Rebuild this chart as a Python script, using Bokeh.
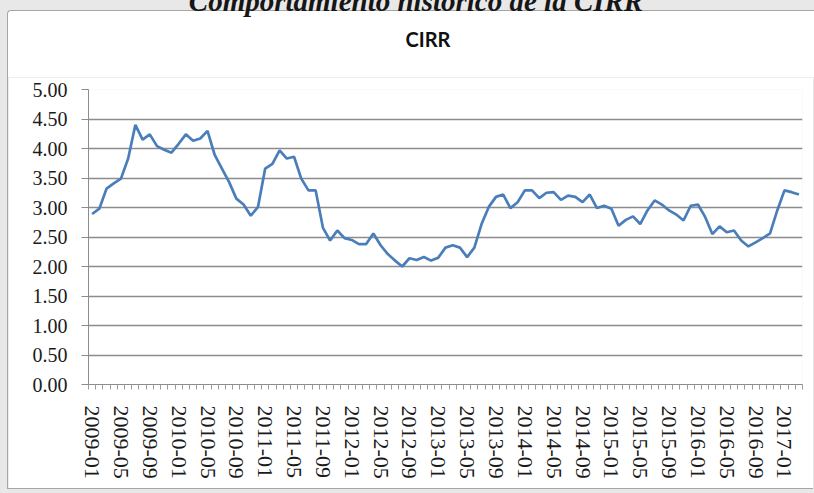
from bokeh.plotting import figure
from bokeh.layouts import column
from bokeh.models import (Div, Range1d, FixedTicker, SingleIntervalTicker,
                          NumeralTickFormatter, ColumnDataSource)
from bokeh.embed import file_html
from bokeh.resources import INLINE

# Monthly CIRR rate, January 2009 through March 2017
months = [f"{y}-{m:02d}" for y in range(2009, 2018) for m in range(1, 13)][:99]
cirr = [
    2.89, 2.98, 3.32, 3.41, 3.49, 3.83, 4.40, 4.15, 4.24, 4.04, 3.98, 3.93,  # 2009
    4.08, 4.24, 4.13, 4.17, 4.30, 3.89, 3.66, 3.43, 3.15, 3.05, 2.86, 3.01,  # 2010
    3.66, 3.74, 3.97, 3.83, 3.86, 3.49, 3.29, 3.29, 2.66, 2.44, 2.61, 2.48,  # 2011
    2.45, 2.38, 2.38, 2.56, 2.36, 2.21, 2.10, 2.00, 2.14, 2.11, 2.16, 2.10,  # 2012
    2.15, 2.32, 2.36, 2.32, 2.16, 2.32, 2.72, 3.01, 3.18, 3.22, 2.99, 3.09,  # 2013
    3.29, 3.29, 3.16, 3.25, 3.26, 3.13, 3.20, 3.18, 3.09, 3.22, 2.99, 3.03,  # 2014
    2.98, 2.69, 2.79, 2.85, 2.72, 2.95, 3.12, 3.05, 2.95, 2.88, 2.78, 3.03,  # 2015
    3.05, 2.84, 2.55, 2.68, 2.58, 2.61, 2.44, 2.34, 2.41, 2.48, 2.56, 2.95,  # 2016
    3.29, 3.26, 3.22,                                                        # 2017
]
label_step = 4  # one date label every four months
page_title = "Comportamiento histórico de la CIRR"
chart_title = "CIRR"

BOX_LINE = "#a6a6a6"
PAGE_BG = "#e8e8e8"

n = len(months)
src = ColumnDataSource(dict(x=[i + 0.5 for i in range(n)], y=cirr, month=months))

# Strip above the plot: page heading (clipped by the page top), then the
# upper part of the white chart panel with the chart title.
top_html = (
    f'<div style="position:relative; width:814px; height:77px; overflow:hidden; '
    f'background-color:{PAGE_BG};">'
    f'<div style="position:absolute; left:7px; top:10px; width:807px; height:67px; '
    f'background-color:white; border-top:1px solid {BOX_LINE}; '
    f'border-left:1px solid {BOX_LINE}; border-top-left-radius:4px; '
    f'box-sizing:border-box;"></div>'
    f'<div style="position:absolute; left:2px; top:-14px; width:828px; '
    f'text-align:center; white-space:nowrap; line-height:30px; '
    f'font-family:\'Liberation Serif\'; font-style:italic; font-weight:bold; '
    f'font-size:29px; color:#161616;">{page_title}</div>'
    f'<div style="position:absolute; left:328px; top:29px; width:200px; '
    f'text-align:center; white-space:nowrap; line-height:21px; '
    f'font-family:Lato; font-weight:bold; font-size:20px; color:#111111;">'
    f'{chart_title}</div>'
    f'</div>'
)
top = Div(text=top_html, width=814, height=77, margin=(0, 0, 0, 0))

p = figure(width=806, height=412, output_backend="svg", toolbar_location=None,
           x_range=Range1d(0, n), y_range=Range1d(0, 5),
           min_border_left=80, min_border_right=12,
           min_border_top=12, min_border_bottom=105, margin=(0, 0, 0, 7),
           styles={"border-left": f"1px solid {BOX_LINE}",
                   "border-bottom": f"1px solid {BOX_LINE}"})
p.border_fill_color = "white"
p.background_fill_color = "white"
p.outline_line_color = None

p.line("x", "y", source=src, line_color="#4a7ebb", line_width=2.7)

# category axis: a tick between every month, a label every fourth month
xa = p.xaxis[0]
label_pos = [i + 0.5 for i in range(0, n, label_step)]
xa.ticker = FixedTicker(ticks=label_pos, minor_ticks=list(range(n + 1)))
xa.major_label_overrides = {x: months[int(x)] for x in label_pos}
xa.major_label_orientation = "vertical"
xa.major_tick_line_color = None
xa.major_tick_out = 0
xa.major_tick_in = 0
xa.minor_tick_out = 5
xa.minor_tick_in = 0
xa.minor_tick_line_color = "#9a9a9a"
xa.axis_line_color = "#8c8c8c"
xa.major_label_standoff = 16
xa.major_label_text_font = "Liberation Serif"
xa.major_label_text_font_size = "22px"
xa.major_label_text_color = "#1a1a1a"

ya = p.yaxis[0]
ya.ticker = SingleIntervalTicker(interval=0.5)
ya.formatter = NumeralTickFormatter(format="0.00")
ya.major_tick_out = 7
ya.major_tick_in = 0
ya.minor_tick_line_color = None
ya.major_tick_line_color = "#8c8c8c"
ya.axis_line_color = "#8c8c8c"
ya.major_label_standoff = 14
ya.major_label_text_font = "Liberation Serif"
ya.major_label_text_font_size = "20px"
ya.major_label_text_color = "#1a1a1a"

p.xgrid.visible = False
p.ygrid.ticker = SingleIntervalTicker(interval=0.5)
p.ygrid.grid_line_color = "#8c8c8c"
p.ygrid.grid_line_width = 1.5

page = column(top, p, spacing=0, width=814, height=493,
              styles={"background-color": PAGE_BG})

open("out.html", "w").write(file_html(page, INLINE))
